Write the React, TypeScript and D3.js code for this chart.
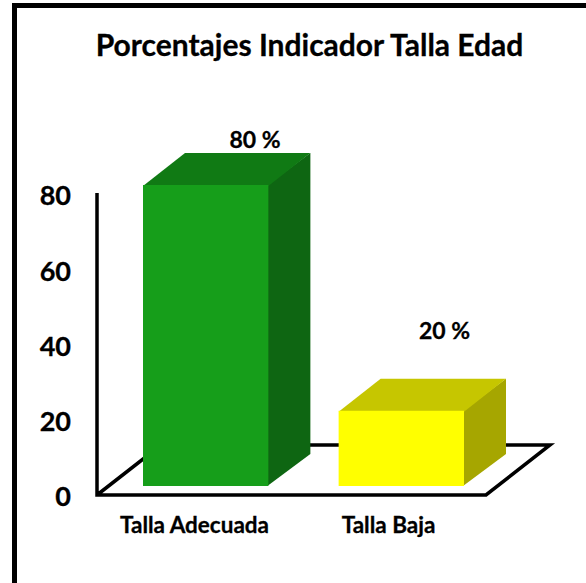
import React from "react";
import * as d3 from "d3";

const categories = ["Talla Adecuada", "Talla Baja"];
const values = [80, 20];
const valueLabels = ["80 %", "20 %"];
const ticks = [0, 20, 40, 60, 80];
const frontColors = ["#169e1a", "#ffff00"];
const topColors = ["#107a14", "#c6c600"];
const sideColors = ["#0e6612", "#a6a600"];
const title = "Porcentajes Indicador Talla Edad";

const font = "Lato, Carlito, 'Open Sans', sans-serif";
const depthX = 42;
const depthY = 32;
const textStyle = { fontFamily: font, fontWeight: 700, fill: "#000", stroke: "#000", strokeWidth: 0.3 };

export default function App() {
  const x = d3.scaleBand<string>().domain(categories).range([143, 465]).paddingInner(0.354).paddingOuter(0);
  const y = d3.scaleLinear().domain([0, 80]).range([486, 185]);
  const tickY = d3.scaleLinear().domain([0, 80]).range([496.5, 196]);
  const poly = (pts: [number, number][]) => (d3.line()(pts) || "") + "Z";
  const bw = x.bandwidth();
  const labelCx = [255, 444.5];
  const labelY = [148, 339];
  const catCx = [194.5, 388.5];

  return (
    <svg width={586} height={583} style={{ position: "absolute", left: 0, top: 0, background: "#fff" }}>
      <path d="M14.5 583V5.5H586" fill="none" stroke="#000" strokeWidth={5} />
      <text x={309.5} y={55.5} textAnchor="middle" fontSize={30} style={textStyle}>{title}</text>

      <path d="M97 193V495H486L550 445H161L97 495" fill="none" stroke="#000" strokeWidth={3.5} strokeLinejoin="miter" />

      {ticks.map((t) => (
        <text key={t} x={71} y={tickY(t)} dy="0.35em" textAnchor="end" fontSize={27} style={textStyle}>{t}</text>
      ))}

      {categories.map((c, i) => {
        const l = x(c)!;
        const r = l + bw;
        const t = y(values[i]);
        const b = y(0);
        return (
          <g key={c}>
            <path d={poly([[r - 2, t], [r + depthX - 1, t - depthY], [r + depthX - 1, b - depthY], [r - 2, b]])} fill={sideColors[i]} />
            <path d={poly([[l, t + 1], [l + depthX, t - depthY], [r + depthX - 1, t - depthY], [r - 1, t + 1]])} fill={topColors[i]} />
            <rect x={l} y={t} width={bw - 1} height={b - t} fill={frontColors[i]} />
            <text x={labelCx[i]} y={labelY[i]} textAnchor="middle" fontSize={23} style={textStyle}>{valueLabels[i]}</text>
            <text x={catCx[i]} y={533} textAnchor="middle" fontSize={22.5} style={textStyle}>{c}</text>
          </g>
        );
      })}
    </svg>
  );
}
